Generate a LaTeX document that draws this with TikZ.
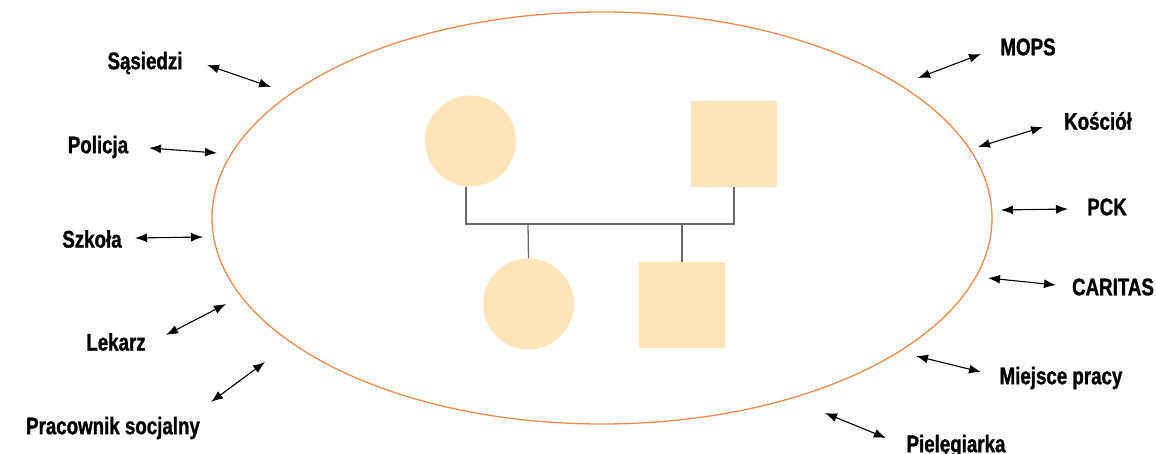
\documentclass[tikz,border=0pt]{standalone}
\usepackage{fontspec}
\setmainfont{Liberation Sans}[FakeStretch=0.78]
\usetikzlibrary{arrows.meta}
\definecolor{famfill}{HTML}{FFE4B8}
\definecolor{ringline}{HTML}{F28A4A}
\definecolor{kinline}{HTML}{6A6A6A}
\newfontfamily\lblfont{Liberation Sans}[FakeStretch=0.78, FakeBold=1.2]
\tikzset{
  lbl/.style={font=\lblfont\bfseries\fontsize{24}{28}\selectfont, inner sep=0pt, anchor=center},
  link/.style={{Latex[length=12pt,width=9pt]}-{Latex[length=12pt,width=9pt]}, line width=1.1pt, black},
  female/.style={circle, fill=famfill, minimum size=91pt, inner sep=0pt},
  male/.style={rectangle, fill=famfill, minimum size=86pt, inner sep=0pt},
  kin/.style={kinline, line width=1.3pt},
}
\begin{document}
\begin{tikzpicture}[x=1pt,y=-1pt]
\useasboundingbox (0,0) rectangle (1156,454);

% surrounding environment of the family
\draw[ringline, line width=1.3pt] (602,218) ellipse [x radius=390pt, y radius=206pt];

% family members
\node[female] (mother) at (470.5,141) {};
\node[male]   (father) at (734,144) {};
\node[female] (daughter) at (528.5,304) {};
\node[male]   (son) at (682,305) {};

% kinship lines
\coordinate (mj) at (466,224);
\coordinate (fj) at (734,224);
\coordinate (dj) at (528,224);
\coordinate (sj) at (682,224);
\draw[kin] (mother.south -| mj) -- (mj) -- (fj) -- (father.south);
\draw[kin] (dj) -- (daughter.north);
\draw[kin] (sj) -- (son.north);

% outside institutions
\node[lbl] (sas)  at (145,63)  {Sąsiedzi};
\node[lbl] (pol)  at (98,147)  {Policja};
\node[lbl] (szk)  at (92,239)  {Szkoła};
\node[lbl] (lek)  at (116,342) {Lekarz};
\node[lbl] (prac) at (113,428) {Pracownik socjalny};
\node[lbl] (mops) at (1028,47) {MOPS};
\node[lbl] (kos)  at (1098,121) {Kościół};
\node[lbl] (pck)  at (1107,207) {PCK};
\node[lbl] (car)  at (1113,287) {CARITAS};
\node[lbl] (miej) at (1061,378) {Miejsce pracy};
\node[lbl] (piel) at (956,446) {Pielęgiarka};

% arrow end points
\coordinate (sasA) at (207,65);   \coordinate (sasB) at (271,87);
\coordinate (polA) at (149,148);  \coordinate (polB) at (217,153);
\coordinate (szkA) at (135,238);  \coordinate (szkB) at (203,237);
\coordinate (lekA) at (166,335);  \coordinate (lekB) at (226,304);
\coordinate (pracA) at (211,402); \coordinate (pracB) at (265,362);
\coordinate (mopsA) at (918,78);  \coordinate (mopsB) at (981,54);
\coordinate (kosA) at (978,147);  \coordinate (kosB) at (1043,127);
\coordinate (pckA) at (1001,210); \coordinate (pckB) at (1068,209);
\coordinate (carA) at (988,278);  \coordinate (carB) at (1056,285);
\coordinate (miejA) at (916,356); \coordinate (miejB) at (981,372);
\coordinate (pielA) at (825,413); \coordinate (pielB) at (886,438);

\foreach \p in {sas,pol,szk,lek,prac,mops,kos,pck,car,miej,piel}
  \draw[link] (\p A) -- (\p B);
\end{tikzpicture}
\end{document}
